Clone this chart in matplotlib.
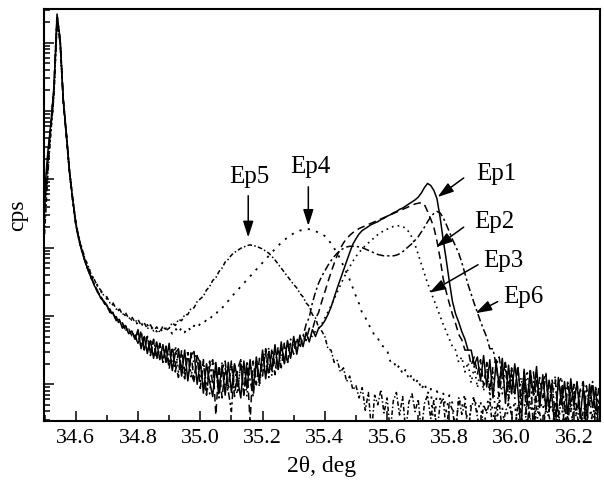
import numpy as np
import matplotlib
matplotlib.use('Agg')
import matplotlib.pyplot as plt
from matplotlib.ticker import MultipleLocator, LogLocator, NullFormatter, FormatStrFormatter

plt.rcParams['font.family'] = 'Liberation Serif'

# 2theta sampling, 0.01 deg step from 34.50 to 36.29
two_theta = np.round(34.50 + 0.01 * np.arange(180), 2)

# log10(cps), 10 points per row
ep1 = [3.80, 4.38, 4.82, 5.35, 6.42, 6.05, 5.16, 4.66, 4.12, 3.71,
       3.35, 3.13, 2.94, 2.81, 2.66, 2.57, 2.44, 2.37, 2.26, 2.22,
       2.16, 2.05, 2.04, 1.93, 1.95, 1.82, 1.86, 1.74, 1.78, 1.66,
       1.80, 1.52, 1.70, 1.45, 1.64, 1.38, 1.62, 1.36, 1.58, 1.32,
       1.60, 1.20, 1.46, 1.52, 1.12, 1.50, 1.05, 1.42, 1.48, 1.00,
       1.34, 0.87, 1.30, 1.04, 0.82, 1.32, 0.92, 1.28, 0.84, 1.32,
       0.88, 1.30, 1.07, 0.80, 1.34, 0.94, 1.36, 0.90, 1.40, 1.04,
       1.50, 1.08, 1.48, 1.20, 1.58, 1.22, 1.62, 1.30, 1.64, 1.38,
       1.70, 1.44, 1.72, 1.55, 1.76, 1.62, 1.80, 1.70, 1.82, 1.86,
       1.93, 2.02, 2.13, 2.27, 2.41, 2.54, 2.67, 2.80, 2.93, 3.05,
       3.13, 3.20, 3.25, 3.28, 3.31, 3.34, 3.36, 3.38, 3.41, 3.43,
       3.46, 3.48, 3.51, 3.53, 3.56, 3.58, 3.61, 3.64, 3.67, 3.70,
       3.74, 3.80, 3.88, 3.94, 3.91, 3.84, 3.72, 3.45, 3.12, 2.82,
       2.50, 2.21, 2.03, 1.91, 1.77, 1.66, 1.50, 1.50, 1.28, 1.40,
       1.05, 1.42, 0.96, 1.36, 0.80, 1.32, 0.98, 1.38, 0.72, 1.28,
       0.86, 1.30, 0.92, 0.30, 1.22, 0.76, 1.20, 0.84, 1.26, 0.66,
       1.14, 0.64, 1.06, 0.80, 0.30, 1.10, 0.70, 1.04, 0.56, 1.08,
       0.68, 1.04, 0.50, 0.96, 0.30, 1.00, 0.66, 0.94, 0.30, 0.98]

ep2 = [3.55, 4.20, 4.75, 5.30, 6.35, 6.00, 5.12, 4.62, 4.10, 3.72,
       3.37, 3.11, 2.96, 2.79, 2.68, 2.55, 2.46, 2.35, 2.29, 2.20,
       2.12, 2.10, 1.99, 1.99, 1.88, 1.90, 1.79, 1.81, 1.71, 1.74,
       1.58, 1.76, 1.50, 1.70, 1.42, 1.64, 1.36, 1.60, 1.34, 1.56,
       1.22, 1.55, 1.30, 1.10, 1.50, 1.18, 1.08, 1.46, 1.06, 1.42,
       0.94, 1.34, 0.84, 1.26, 1.36, 0.55, 1.28, 0.80, 1.24, 0.97,
       1.34, 0.82, 1.22, 1.36, 0.86, 1.28, 0.45, 1.34, 0.99, 1.38,
       1.12, 1.52, 1.20, 1.46, 1.14, 1.55, 1.24, 1.58, 1.30, 1.60,
       1.44, 1.68, 1.52, 1.72, 1.64, 1.82, 1.80, 1.96, 2.05, 2.21,
       2.35, 2.50, 2.64, 2.77, 2.89, 2.99, 3.07, 3.13, 3.18, 3.22,
       3.25, 3.28, 3.30, 3.32, 3.34, 3.36, 3.38, 3.40, 3.42, 3.44,
       3.46, 3.48, 3.50, 3.52, 3.54, 3.56, 3.58, 3.60, 3.62, 3.64,
       3.65, 3.66, 3.63, 3.53, 3.42, 3.30, 3.10, 2.85, 2.55, 2.35,
       2.18, 2.02, 1.89, 1.73, 1.65, 1.50, 1.50, 1.28, 1.40, 1.15,
       1.36, 0.98, 1.32, 0.90, 1.26, 1.36, 0.82, 1.22, 1.32, 0.78,
       1.20, 0.86, 1.28, 0.70, 1.12, 0.30, 1.06, 1.18, 0.74, 1.10,
       0.80, 1.14, 0.60, 1.02, 1.08, 0.52, 0.98, 0.30, 1.04, 0.68,
       1.00, 0.60, 0.92, 1.04, 0.54, 0.90, 1.00, 0.30, 0.72, 0.94]

ep3 = [3.35, 4.10, 4.70, 5.25, 6.30, 6.02, 5.14, 4.64, 4.08, 3.69,
       3.34, 3.13, 2.94, 2.81, 2.66, 2.57, 2.44, 2.37, 2.27, 2.22,
       2.13, 2.07, 2.05, 1.94, 1.90, 1.89, 1.80, 1.77, 1.77, 1.68,
       1.74, 1.55, 1.72, 1.48, 1.66, 1.40, 1.62, 1.38, 1.56, 1.30,
       1.52, 1.26, 1.56, 1.18, 1.46, 1.14, 1.50, 1.10, 1.38, 1.44,
       1.04, 1.36, 0.96, 0.86, 1.34, 1.22, 0.84, 1.32, 0.98, 0.90,
       1.30, 0.94, 0.86, 1.34, 1.20, 0.82, 1.32, 1.02, 1.36, 0.96,
       1.44, 1.14, 1.54, 1.12, 1.50, 1.24, 1.44, 1.60, 1.30, 1.66,
       1.52, 1.64, 1.56, 1.68, 1.64, 1.72, 1.70, 1.78, 1.82, 1.88,
       1.97, 2.06, 2.15, 2.25, 2.35, 2.45, 2.55, 2.64, 2.72, 2.80,
       2.87, 2.93, 2.98, 3.03, 3.07, 3.11, 3.15, 3.19, 3.22, 3.25,
       3.27, 3.29, 3.31, 3.32, 3.32, 3.31, 3.28, 3.23, 3.15, 3.04,
       2.90, 2.76, 2.62, 2.48, 2.36, 2.24, 2.12, 2.00, 1.88, 1.77,
       1.66, 1.55, 1.50, 1.32, 1.40, 1.18, 1.32, 1.02, 1.26, 0.95,
       1.22, 0.90, 1.28, 0.82, 1.18, 0.30, 1.12, 0.86, 1.24, 0.74,
       1.14, 0.80, 0.30, 1.10, 0.84, 1.20, 0.64, 1.04, 0.30, 0.96,
       1.06, 0.56, 1.00, 0.74, 1.12, 0.30, 0.94, 0.66, 1.02, 0.60,
       0.96, 0.30, 0.88, 1.02, 0.58, 0.94, 0.30, 0.98, 0.66, 0.92]

ep4 = [3.70, 4.32, 4.80, 5.33, 6.40, 6.03, 5.15, 4.64, 4.11, 3.72,
       3.36, 3.16, 2.97, 2.85, 2.71, 2.62, 2.51, 2.45, 2.36, 2.32,
       2.25, 2.22, 2.16, 2.14, 2.07, 2.06, 2.00, 2.00, 1.94, 1.95,
       1.86, 1.90, 1.83, 1.87, 1.79, 1.85, 1.77, 1.83, 1.75, 1.82,
       1.81, 1.74, 1.82, 1.75, 1.83, 1.76, 1.84, 1.78, 1.86, 1.82,
       1.89, 1.88, 1.95, 1.94, 2.02, 2.02, 2.10, 2.11, 2.19, 2.22,
       2.28, 2.33, 2.38, 2.43, 2.48, 2.53, 2.58, 2.63, 2.68, 2.73,
       2.78, 2.83, 2.88, 2.93, 2.98, 3.03, 3.07, 3.11, 3.15, 3.18,
       3.21, 3.23, 3.25, 3.26, 3.27, 3.27, 3.26, 3.24, 3.22, 3.20,
       3.17, 3.12, 3.06, 2.99, 2.92, 2.83, 2.73, 2.63, 2.53, 2.41,
       2.29, 2.18, 2.04, 1.98, 1.87, 1.82, 1.70, 1.68, 1.57, 1.55,
       1.50, 1.34, 1.36, 1.22, 1.28, 1.14, 1.22, 1.06, 1.15, 1.00,
       1.08, 0.92, 1.02, 0.86, 0.96, 0.30, 0.90, 0.78, 0.88, 0.60,
       0.84, 0.72, 0.30, 0.80, 0.66, 0.86, 0.30, 0.74, 0.82, 0.58,
       0.76, 0.30, 0.70, 0.82, 0.60, 0.30, 0.78, 0.66, 0.30, 0.74,
       0.62, 0.72, 0.30, 0.68, 0.76, 0.30, 0.60, 0.70, 0.30, 0.66,
       0.74, 0.30, 0.62, 0.70, 0.30, 0.58, 0.72, 0.30, 0.64, 0.68,
       0.30, 0.66, 0.72, 0.30, 0.60, 0.70, 0.30, 0.62, 0.74, 0.56]

ep5 = [3.20, 4.05, 4.68, 5.22, 6.28, 6.00, 5.15, 4.66, 4.12, 3.73,
       3.38, 3.14, 2.99, 2.83, 2.73, 2.60, 2.53, 2.43, 2.38, 2.30,
       2.28, 2.19, 2.19, 2.10, 2.11, 2.02, 2.05, 1.96, 1.99, 1.91,
       1.95, 1.86, 1.90, 1.81, 1.87, 1.78, 1.84, 1.76, 1.85, 1.79,
       1.82, 1.90, 1.86, 1.95, 1.93, 2.02, 2.02, 2.11, 2.12, 2.21,
       2.25, 2.29, 2.38, 2.43, 2.52, 2.56, 2.65, 2.70, 2.79, 2.83,
       2.89, 2.93, 2.96, 2.99, 3.01, 3.03, 3.04, 3.03, 3.02, 3.00,
       2.98, 2.95, 2.92, 2.87, 2.82, 2.76, 2.70, 2.64, 2.58, 2.52,
       2.46, 2.41, 2.33, 2.28, 2.19, 2.14, 2.02, 1.97, 1.83, 1.78,
       1.70, 1.52, 1.50, 1.32, 1.35, 1.18, 1.24, 1.04, 1.12, 0.92,
       0.98, 0.80, 0.95, 0.62, 0.88, 0.30, 0.84, 0.70, 0.92, 0.58,
       0.80, 0.30, 0.76, 0.88, 0.55, 0.82, 0.30, 0.74, 0.86, 0.60,
       0.78, 0.30, 0.72, 0.84, 0.50, 0.76, 0.30, 0.70, 0.80, 0.30,
       0.74, 0.62, 0.30, 0.80, 0.56, 0.72, 0.30, 0.66, 0.78, 0.52,
       0.30, 0.70, 0.58, 0.76, 0.30, 0.64, 0.74, 0.30, 0.60, 0.72,
       0.55, 0.30, 0.70, 0.62, 0.30, 0.74, 0.50, 0.30, 0.68, 0.58,
       0.30, 0.66, 0.54, 0.30, 0.72, 0.60, 0.30, 0.64, 0.52, 0.30,
       0.68, 0.56, 0.30, 0.62, 0.70, 0.30, 0.58, 0.66, 0.30, 0.60]

ep6 = [3.60, 4.25, 4.78, 5.32, 6.38, 6.04, 5.18, 4.67, 4.11, 3.71,
       3.36, 3.11, 2.96, 2.79, 2.68, 2.55, 2.46, 2.35, 2.29, 2.20,
       2.15, 2.06, 2.03, 1.95, 1.94, 1.84, 1.85, 1.76, 1.77, 1.69,
       1.60, 1.78, 1.52, 1.70, 1.46, 1.66, 1.40, 1.58, 1.32, 1.54,
       1.28, 1.54, 1.18, 1.48, 1.24, 1.08, 1.44, 1.16, 1.04, 1.40,
       1.32, 0.98, 0.90, 1.34, 1.00, 1.26, 0.80, 1.22, 1.34, 0.90,
       0.60, 1.28, 0.90, 1.30, 0.84, 1.34, 1.06, 0.82, 1.32, 1.02,
       1.34, 1.46, 1.10, 1.52, 1.26, 1.20, 1.56, 1.30, 1.62, 1.40,
       1.64, 1.50, 1.68, 1.70, 1.88, 1.98, 2.19, 2.35, 2.48, 2.58,
       2.66, 2.74, 2.81, 2.87, 2.92, 2.96, 2.99, 3.01, 3.02, 3.02,
       3.02, 3.01, 3.00, 2.98, 2.96, 2.94, 2.92, 2.90, 2.89, 2.88,
       2.88, 2.88, 2.88, 2.89, 2.91, 2.94, 2.98, 3.02, 3.06, 3.11,
       3.16, 3.23, 3.30, 3.38, 3.45, 3.50, 3.53, 3.51, 3.44, 3.34,
       3.23, 3.12, 3.02, 2.92, 2.78, 2.62, 2.46, 2.32, 2.18, 2.05,
       1.92, 1.80, 1.69, 1.52, 1.52, 1.28, 1.40, 1.08, 1.32, 0.96,
       1.24, 0.86, 1.26, 0.80, 1.18, 0.70, 1.20, 0.30, 1.12, 0.80,
       1.04, 1.16, 0.64, 1.06, 0.52, 1.02, 1.10, 0.70, 0.30, 1.00,
       0.76, 1.02, 0.62, 0.30, 0.98, 0.70, 1.04, 0.56, 0.96, 0.74]

series = [ep1, ep2, ep3, ep4, ep5, ep6]
styles = ['-', (0, (5, 3)), (0, (1, 2.5)), (0, (1.2, 3.5)),
          (0, (3, 1.5, 1, 1.5)), (0, (5, 2, 1.5, 2))]
widths = [1.1, 1.1, 1.2, 1.3, 1.1, 1.1]

# label text, label position, arrow tail, arrow tip  (2theta, log10 cps)
labels = ['Ep1', 'Ep2', 'Ep3', 'Ep4', 'Ep5', 'Ep6']
label_pos = [(35.950, 4.08), (35.945, 3.38), (35.972, 2.80),
             (35.353, 4.18), (35.157, 4.03), (36.038, 2.28)]
arrow_tail = [(35.846, 4.02), (35.846, 3.30), (35.892, 2.75),
              (35.347, 3.89), (35.154, 3.76), (35.955, 2.21)]
arrow_tip = [(35.762, 3.74), (35.758, 3.01), (35.736, 2.34),
             (35.347, 3.32), (35.154, 3.15), (35.884, 2.04)]

fig = plt.figure(figsize=(6.04, 4.86), dpi=100)
ax = fig.add_axes([0.0728, 0.1344, 0.9207, 0.8466])

for s, ls, lw in zip(series, styles, widths):
    ax.plot(two_theta, 10 ** np.array(s), color='black', ls=ls, lw=lw)

for lab, p, t, h in zip(labels, label_pos, arrow_tail, arrow_tip):
    ax.text(p[0], 10 ** p[1], lab, fontsize=18, ha='center', va='center')
    ax.annotate('', xy=(h[0], 10 ** h[1]), xytext=(t[0], 10 ** t[1]),
                arrowprops=dict(arrowstyle='-|>,head_length=0.75,head_width=0.24',
                                color='black', lw=1.1, mutation_scale=13,
                                shrinkA=0, shrinkB=0))

ax.set_yscale('log')
ax.set_xlim(34.498, 36.284)
ax.set_ylim(10 ** 0.467, 10 ** 6.49)

ax.xaxis.set_major_locator(MultipleLocator(0.2))
ax.xaxis.set_minor_locator(MultipleLocator(0.1))
ax.xaxis.set_major_formatter(FormatStrFormatter('%.1f'))
ax.yaxis.set_major_locator(LogLocator(base=10, numticks=20))
ax.yaxis.set_minor_locator(LogLocator(base=10, subs=np.arange(2, 10), numticks=20))
ax.yaxis.set_major_formatter(NullFormatter())
ax.yaxis.set_minor_formatter(NullFormatter())

ax.tick_params(which='both', direction='in', top=False, right=False, width=1.1)
ax.tick_params(which='major', length=7)
ax.tick_params(which='minor', length=4)
ax.tick_params(axis='x', labelsize=16, pad=6)
for sp in ax.spines.values():
    sp.set_linewidth(1.5)

ax.set_xlabel('2θ, deg', fontsize=17, labelpad=6)
ax.set_ylabel('cps', fontsize=17)
ax.yaxis.set_label_coords(-0.028, 0.5)

fig.savefig('out.png', dpi=100)
